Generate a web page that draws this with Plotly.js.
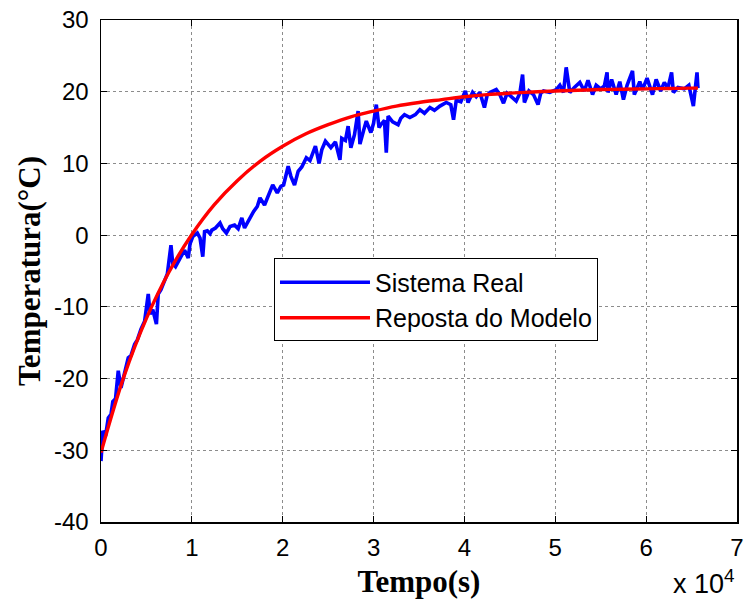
<!DOCTYPE html>
<html>
<head>
<meta charset="utf-8">
<script src="https://cdn.plot.ly/plotly-3.0.1.min.js"></script>
<style>html,body{margin:0;padding:0;background:#fff;}#chart{width:744px;height:602px;}</style>
</head>
<body>
<div id="chart"></div>
<script>
// Time in units of 10^4 s
var tempoReal = [0,0.02,0.05,0.08,0.11,0.13,0.16,0.19,0.22,0.26,0.30,0.33,0.37,0.40,0.44,0.48,0.52,0.54,0.57,0.61,0.63,0.66,0.70,0.73,0.77,0.79,0.82,0.85,0.88,0.92,0.96,0.98,1.01,1.03,1.06,1.09,1.12,1.14,1.17,1.20,1.22,1.26,1.31,1.34,1.38,1.42,1.47,1.51,1.55,1.58,1.62,1.68,1.72,1.75,1.80,1.85,1.89,1.94,1.98,2.01,2.06,2.09,2.13,2.17,2.21,2.26,2.30,2.36,2.40,2.43,2.47,2.53,2.58,2.63,2.65,2.69,2.72,2.75,2.79,2.83,2.85,2.89,2.92,2.97,3.00,3.03,3.06,3.08,3.12,3.14,3.16,3.21,3.27,3.30,3.34,3.40,3.46,3.51,3.56,3.62,3.67,3.73,3.80,3.85,3.88,3.91,3.96,4.01,4.04,4.09,4.13,4.17,4.22,4.25,4.28,4.35,4.39,4.43,4.47,4.50,4.57,4.61,4.64,4.66,4.71,4.76,4.81,4.84,4.87,4.94,5.01,5.05,5.09,5.12,5.16,5.21,5.27,5.32,5.36,5.41,5.45,5.50,5.54,5.57,5.58,5.62,5.67,5.71,5.75,5.79,5.85,5.87,5.93,5.96,6.01,6.07,6.11,6.16,6.20,6.24,6.28,6.30,6.35,6.42,6.47,6.52,6.54,6.56,6.57];
var tempReal = [-31.5,-27.3,-28.0,-25.5,-25.0,-23.2,-22.8,-18.9,-21.3,-19.0,-17.1,-16.8,-15.2,-14.6,-13.1,-12.0,-8.2,-11.0,-10.4,-12.4,-8.2,-7.6,-6.3,-5.4,-1.4,-4.0,-4.4,-3.8,-3.0,-2.1,-3.2,-1.2,-0.2,0.0,0.3,-0.4,-3.0,0.5,0.6,0.2,0.7,1.0,1.7,0.9,0.3,1.2,1.4,0.9,2.4,1.0,2.0,3.3,4.0,5.2,4.2,5.6,7.0,5.9,6.8,7.0,9.6,8.2,7.0,8.9,9.5,10.8,10.4,12.4,10.0,11.9,13.1,12.2,13.0,10.5,13.5,13.2,15.2,12.2,14.0,17.3,12.7,14.6,15.9,14.3,15.6,18.2,15.0,15.4,16.0,11.5,16.6,15.8,15.4,16.3,16.8,16.4,16.8,17.5,17.0,17.8,17.4,18.0,18.5,18.2,16.1,18.8,18.6,20.1,18.5,19.9,19.3,19.9,17.8,19.5,19.9,20.3,19.6,18.4,19.8,19.5,18.7,19.8,22.4,18.5,20.1,19.6,18.2,19.8,20.1,19.9,20.3,20.9,19.9,23.4,19.9,20.6,21.3,20.1,21.6,19.6,20.9,20.4,20.8,22.7,19.9,21.7,19.6,21.4,18.9,20.9,22.9,19.6,21.4,20.3,21.9,19.6,21.7,20.1,21.3,20.5,22.7,19.9,20.6,20.4,20.9,18.0,20.6,22.7,20.5];

var tempoModelo = [0,0.25,0.5,0.75,1.0,1.25,1.5,1.75,2.0,2.25,2.5,2.75,3.0,3.25,3.5,3.75,4.0,4.25,4.5,4.75,5.0,5.25,5.5,5.75,6.0,6.25,6.5,6.57];
var tempModelo = [-30.3,-19.8,-11.6,-5.1,0.1,4.3,7.6,10.3,12.4,14.1,15.4,16.5,17.3,18.0,18.5,18.9,19.3,19.6,19.8,19.95,20.1,20.2,20.3,20.35,20.4,20.45,20.5,20.5];

var xTickVals = [0,1,2,3,4,5,6,7];
var xTickText = ['0','1','2','3','4','5','6','7'];
var yTickVals = [-40,-30,-20,-10,0,10,20,30];
var yTickText = ['-40','-30','-20','-10','0','10','20','30'];

var traces = [
  {x: tempoReal, y: tempReal, type: 'scatter', mode: 'lines', name: 'Sistema Real',
   line: {color: '#0000FF', width: 3.6}},
  {x: tempoModelo, y: tempModelo, type: 'scatter', mode: 'lines', name: 'Reposta do Modelo',
   line: {color: '#FF0000', width: 3.4, shape: 'spline'}}
];

var axisCommon = {
  showline: true, linecolor: '#000', linewidth: 1.5, mirror: 'ticks',
  ticks: 'inside', ticklen: 6, tickwidth: 1.2, tickcolor: '#000',
  showgrid: true, gridcolor: '#8c8c8c', griddash: 'dot', gridwidth: 1,
  zeroline: false, tickfont: {family: 'Liberation Sans, Arial, sans-serif', size: 24, color: '#000'}
};

var layout = {
  width: 744, height: 602,
  margin: {l: 101, r: 7, t: 20, b: 80},
  paper_bgcolor: '#fff', plot_bgcolor: '#fff',
  showlegend: true,
  xaxis: Object.assign({}, axisCommon, {
    range: [0, 7], tickmode: 'array', tickvals: xTickVals, ticktext: xTickText,
    ticklabelstandoff: 4,
    title: {text: 'Tempo(s)', font: {family: 'Liberation Serif, Times New Roman, serif', size: 31, color: '#000', weight: 'bold'}, standoff: 10}
  }),
  yaxis: Object.assign({}, axisCommon, {
    range: [-40, 30], tickmode: 'array', tickvals: yTickVals, ticktext: yTickText,
    ticklabelstandoff: 6,
    title: {text: 'Temperatura(°C)', font: {family: 'Liberation Serif, Times New Roman, serif', size: 31, color: '#000', weight: 'bold'}, standoff: 4}
  }),
  legend: {
    x: 0.272, y: 0.525, xanchor: 'left', yanchor: 'top',
    bgcolor: '#fff', bordercolor: '#000', borderwidth: 1,
    font: {family: 'Liberation Sans, Arial, sans-serif', size: 25, color: '#000'},
    itemwidth: 90, tracegroupgap: 0
  },
  annotations: [
    {xref: 'paper', yref: 'paper', x: 1.0, y: -0.158, xanchor: 'right', yanchor: 'bottom',
     text: 'x 10<sup>4</sup>', showarrow: false,
     font: {family: 'Liberation Sans, Arial, sans-serif', size: 27, color: '#000'}}
  ]
};

Plotly.newPlot('chart', traces, layout, {displayModeBar: false, staticPlot: true});
</script>
</body>
</html>
